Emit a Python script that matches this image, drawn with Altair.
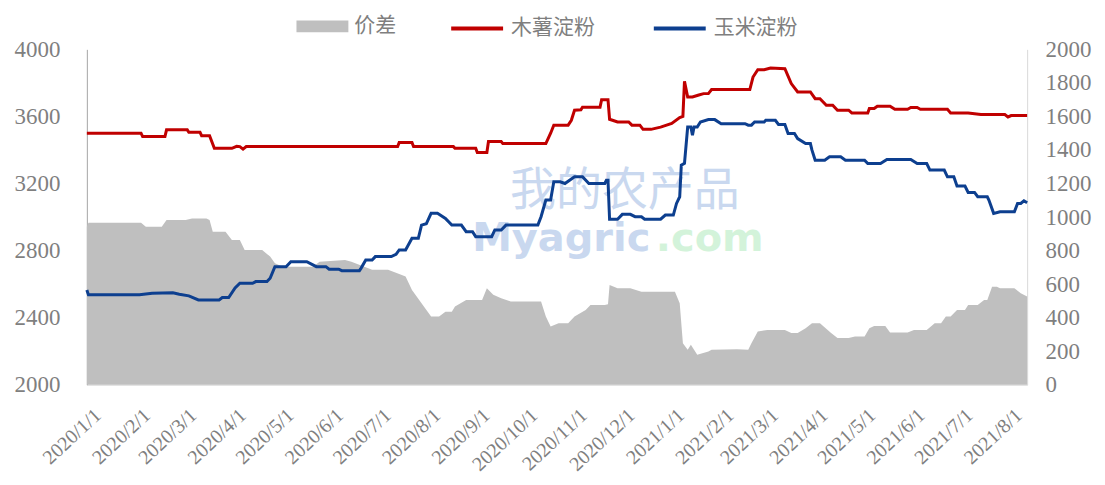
import altair as alt
import pandas as pd

# ---------------- data ----------------
cassava_dates = [
    "2020-01-01", "2020-02-04", "2020-02-05", "2020-02-19", "2020-02-20", "2020-03-04",
    "2020-03-05", "2020-03-12", "2020-03-13", "2020-03-18", "2020-03-21", "2020-04-01",
    "2020-04-04", "2020-04-06", "2020-04-08", "2020-04-10", "2020-07-14", "2020-07-15",
    "2020-07-23", "2020-07-24", "2020-08-18", "2020-08-19", "2020-09-01", "2020-09-02",
    "2020-09-08", "2020-09-09", "2020-09-17", "2020-09-18", "2020-10-15", "2020-10-18",
    "2020-10-20", "2020-10-29", "2020-10-31", "2020-11-02", "2020-11-06", "2020-11-07",
    "2020-11-18", "2020-11-19", "2020-11-23", "2020-11-24", "2020-11-29", "2020-12-06",
    "2020-12-08", "2020-12-13", "2020-12-15", "2020-12-20", "2020-12-26", "2021-01-02",
    "2021-01-07", "2021-01-09", "2021-01-10", "2021-01-12", "2021-01-15", "2021-01-19",
    "2021-01-22", "2021-01-25", "2021-01-27", "2021-02-20", "2021-02-22", "2021-02-25",
    "2021-03-01", "2021-03-05", "2021-03-14", "2021-03-18", "2021-03-22", "2021-03-30",
    "2021-04-02", "2021-04-05", "2021-04-09", "2021-04-13", "2021-04-16", "2021-04-23",
    "2021-04-25", "2021-05-05", "2021-05-06", "2021-05-09", "2021-05-11", "2021-05-19",
    "2021-05-22", "2021-05-30", "2021-06-01", "2021-06-05", "2021-06-07", "2021-06-24",
    "2021-06-26", "2021-07-07", "2021-07-15", "2021-07-30", "2021-08-01", "2021-08-03",
    "2021-08-13",
]
cassava_values = [
    3500, 3500, 3480, 3480, 3520, 3520,
    3505, 3505, 3485, 3485, 3410, 3410,
    3422, 3420, 3405, 3420, 3420, 3445,
    3445, 3420, 3420, 3410, 3410, 3385,
    3385, 3450, 3450, 3438, 3438, 3500,
    3548, 3548, 3577, 3637, 3640, 3655,
    3655, 3700, 3700, 3583, 3567, 3567,
    3548, 3548, 3523, 3523, 3536, 3558,
    3593, 3600, 3810, 3716, 3716, 3728,
    3736, 3736, 3760, 3760, 3835, 3879,
    3879, 3889, 3885, 3796, 3746, 3746,
    3706, 3706, 3667, 3667, 3637, 3637,
    3621, 3621, 3647, 3647, 3661, 3661,
    3643, 3643, 3653, 3653, 3643, 3643,
    3621, 3621, 3611, 3611, 3597, 3605,
    3605,
]

corn_dates = [
    "2020-01-01", "2020-01-02", "2020-02-03", "2020-02-11", "2020-02-24", "2020-02-28",
    "2020-03-05", "2020-03-11", "2020-03-24", "2020-03-26", "2020-03-30", "2020-04-03",
    "2020-04-06", "2020-04-14", "2020-04-16", "2020-04-23", "2020-04-25", "2020-04-28",
    "2020-05-05", "2020-05-08", "2020-05-18", "2020-05-24", "2020-05-30", "2020-06-01",
    "2020-06-07", "2020-06-09", "2020-06-20", "2020-06-21", "2020-06-24", "2020-06-28",
    "2020-06-30", "2020-07-10", "2020-07-13", "2020-07-15", "2020-07-19", "2020-07-23",
    "2020-07-27", "2020-07-29", "2020-08-01", "2020-08-04", "2020-08-08", "2020-08-13",
    "2020-08-17", "2020-08-23", "2020-08-26", "2020-08-30", "2020-09-01", "2020-09-11",
    "2020-09-13", "2020-09-17", "2020-09-20", "2020-10-10", "2020-10-12", "2020-10-15",
    "2020-10-18", "2020-10-20", "2020-10-24", "2020-10-27", "2020-11-02", "2020-11-07",
    "2020-11-11", "2020-11-21", "2020-11-22", "2020-11-23", "2020-11-24", "2020-11-29",
    "2020-12-02", "2020-12-07", "2020-12-10", "2020-12-14", "2020-12-16", "2020-12-26",
    "2020-12-29", "2021-01-03", "2021-01-05", "2021-01-07", "2021-01-08", "2021-01-10",
    "2021-01-12", "2021-01-14", "2021-01-15", "2021-01-16", "2021-01-18", "2021-01-20",
    "2021-01-25", "2021-01-29", "2021-02-02", "2021-02-17", "2021-02-19", "2021-02-21",
    "2021-02-23", "2021-03-01", "2021-03-02", "2021-03-08", "2021-03-10", "2021-03-14",
    "2021-03-16", "2021-03-20", "2021-03-22", "2021-03-27", "2021-03-30", "2021-03-31",
    "2021-04-02", "2021-04-08", "2021-04-11", "2021-04-18", "2021-04-21", "2021-05-03",
    "2021-05-05", "2021-05-13", "2021-05-17", "2021-06-01", "2021-06-05", "2021-06-11",
    "2021-06-13", "2021-06-22", "2021-06-24", "2021-06-28", "2021-06-30", "2021-07-05",
    "2021-07-07", "2021-07-11", "2021-07-13", "2021-07-19", "2021-07-20", "2021-07-23",
    "2021-07-27", "2021-08-05", "2021-08-07", "2021-08-09", "2021-08-11", "2021-08-13",
]
corn_values = [
    2565, 2536, 2536, 2546, 2548, 2540,
    2530, 2506, 2506, 2520, 2520, 2577,
    2605, 2605, 2615, 2615, 2635, 2704,
    2704, 2734, 2734, 2704, 2704, 2689,
    2689, 2680, 2680, 2694, 2744, 2744,
    2764, 2764, 2778, 2804, 2804, 2873,
    2873, 2952, 2960, 3022, 3022, 2992,
    2952, 2952, 2913, 2913, 2883, 2883,
    2923, 2923, 2952, 2952, 3002, 3101,
    3101, 3210, 3210, 3200, 3240, 3240,
    3200, 3200, 3220, 3220, 2987, 2987,
    3016, 3016, 3002, 3002, 2987, 2987,
    3012, 3012, 3081, 3121, 3310, 3320,
    3537, 3537, 3488, 3537, 3537, 3567,
    3581, 3581, 3557, 3557, 3548, 3548,
    3567, 3567, 3577, 3577, 3552, 3552,
    3498, 3498, 3468, 3438, 3438, 3399,
    3339, 3339, 3359, 3359, 3339, 3339,
    3319, 3319, 3343, 3343, 3319, 3319,
    3280, 3280, 3240, 3240, 3185, 3185,
    3147, 3147, 3121, 3121, 3101, 3022,
    3032, 3032, 3081, 3081, 3097, 3085,
]

spread_dates = [
    "2020-01-01", "2020-01-02", "2020-02-04", "2020-02-07", "2020-02-17", "2020-02-20",
    "2020-03-03", "2020-03-07", "2020-03-16", "2020-03-18", "2020-03-20", "2020-03-28",
    "2020-04-01", "2020-04-06", "2020-04-09", "2020-04-20", "2020-04-25", "2020-04-28",
    "2020-05-03", "2020-05-22", "2020-05-26", "2020-06-11", "2020-06-15", "2020-06-28",
    "2020-07-08", "2020-07-15", "2020-07-19", "2020-07-23", "2020-07-29", "2020-08-04",
    "2020-08-09", "2020-08-13", "2020-08-17", "2020-08-19", "2020-08-26", "2020-09-05",
    "2020-09-08", "2020-09-12", "2020-09-17", "2020-09-23", "2020-10-12", "2020-10-15",
    "2020-10-18", "2020-10-23", "2020-10-29", "2020-11-02", "2020-11-09", "2020-11-12",
    "2020-11-21", "2020-11-23", "2020-11-24", "2020-11-29", "2020-12-07", "2020-12-14",
    "2021-01-04", "2021-01-07", "2021-01-09", "2021-01-12", "2021-01-14", "2021-01-18",
    "2021-01-25", "2021-01-27", "2021-02-12", "2021-02-19", "2021-02-21", "2021-02-25",
    "2021-03-03", "2021-03-14", "2021-03-18", "2021-03-22", "2021-03-27", "2021-03-31",
    "2021-04-05", "2021-04-12", "2021-04-16", "2021-04-23", "2021-04-27", "2021-05-03",
    "2021-05-06", "2021-05-09", "2021-05-16", "2021-05-19", "2021-05-30", "2021-06-03",
    "2021-06-11", "2021-06-16", "2021-06-20", "2021-06-23", "2021-06-26", "2021-06-30",
    "2021-07-05", "2021-07-07", "2021-07-13", "2021-07-17", "2021-07-19", "2021-07-22",
    "2021-07-25", "2021-07-27", "2021-08-05", "2021-08-09", "2021-08-13",
]
spread_values = [
    942, 966, 966, 942, 942, 982,
    982, 992, 992, 982, 913, 913,
    863, 863, 804, 804, 764, 724,
    704, 704, 734, 744, 734, 685,
    685, 660, 645, 565, 486, 407,
    407, 436, 436, 466, 506, 506,
    575, 536, 516, 496, 496, 407,
    347, 367, 367, 407, 446, 476,
    476, 480, 595, 575, 575, 555,
    555, 486, 248, 208, 238, 179,
    198, 208, 212, 208, 248, 317,
    327, 327, 308, 308, 337, 367,
    367, 308, 278, 278, 288, 288,
    337, 351, 351, 311, 311, 327,
    327, 367, 367, 407, 407, 446,
    446, 476, 476, 506, 506, 585,
    585, 575, 575, 546, 526,
]

spread_name = "价差"
line_names = ["木薯淀粉", "玉米淀粉"]
spread_color = "#BFBFBF"
line_colors = ["#C00000", "#0D3F8F"]
x_tick_dates = [
    "2020-01-01", "2020-02-01", "2020-03-01", "2020-04-01", "2020-05-01", "2020-06-01",
    "2020-07-01", "2020-08-01", "2020-09-01", "2020-10-01", "2020-11-01", "2020-12-01",
    "2021-01-01", "2021-02-01", "2021-03-01", "2021-04-01", "2021-05-01", "2021-06-01",
    "2021-07-01", "2021-08-01",
]
x_domain = ["2020-01-01", "2021-08-13"]
left_ticks = [2000, 2400, 2800, 3200, 3600, 4000]
right_ticks = [0, 200, 400, 600, 800, 1000, 1200, 1400, 1600, 1800, 2000]
watermark_cn = "我的农产品"
watermark_en = "Myagric"
watermark_dom = ".com"

# ---------------- tables ----------------
def dt(s):
    y, m, d = (int(v) for v in s.split("-"))
    return alt.DateTime(year=y, month=m, date=d, utc=True)

lines_df = pd.concat([
    pd.DataFrame({"date": cassava_dates, "price": cassava_values, "series": line_names[0]}),
    pd.DataFrame({"date": corn_dates, "price": corn_values, "series": line_names[1]}),
])
spread_df = pd.DataFrame({"date": spread_dates, "spread": spread_values, "series": spread_name})

GRAY_TXT = "#7F7F7F"
SERIF = "Liberation Serif"
CJK = "Noto Sans CJK SC"

x_enc = alt.X(
    "date:T",
    title=None,
    scale=alt.Scale(type="utc", domain=[dt(v) for v in x_domain], nice=False),
    axis=alt.Axis(
        values=[dt(v) for v in x_tick_dates],
        format="%Y/%-m/%-d",
        labelAngle=-43,
        labelAlign="right",
        labelBaseline="top",
        labelOffset=4,
        labelPadding=20,
        labelFont=SERIF,
        labelFontSize=20,
        labelColor=GRAY_TXT,
        labelOverlap=False,
        labelFlush=False,
        ticks=False,
        tickSize=0,
        grid=False,
        domainColor="#D9D9D9",
        domainWidth=1,
    ),
)

box_path = "M-1,-0.23H1V0.23H-1Z"
line_path = "M-1,0H1"

area = alt.Chart(spread_df).mark_area(interpolate="linear", opacity=1).encode(
    x=x_enc,
    y=alt.Y(
        "spread:Q",
        title=None,
        scale=alt.Scale(domain=[0, 2000], nice=False, zero=True),
        axis=alt.Axis(
            orient="right",
            values=right_ticks,
            format="d",
            labelFont=SERIF,
            labelFontSize=23,
            labelColor=GRAY_TXT,
            labelPadding=18,
            ticks=False,
            tickSize=0,
            grid=False,
            domainColor="#D9D9D9",
        ),
    ),
    fill=alt.Fill(
        "series:N",
        scale=alt.Scale(domain=[spread_name], range=[spread_color]),
        legend=alt.Legend(
            orient="none", legendX=210, legendY=-49, direction="horizontal", title=None,
            labelFont=CJK, labelFontSize=21, labelColor=GRAY_TXT, labelOffset=6,
            symbolType=box_path, symbolSize=2704, symbolStrokeWidth=0, symbolOpacity=1,
        ),
    ),
)

wm_cn = alt.Chart(pd.DataFrame({"t": [watermark_cn]})).mark_text(
    font=CJK, fontSize=46, color="#C9D8EF", align="center", baseline="middle"
).encode(x=alt.value(539), y=alt.value(142), text="t:N")

wm_en = alt.Chart(pd.DataFrame({"t": [watermark_en]})).mark_text(
    font="DejaVu Sans", fontWeight="bold", fontSize=40, color="#C9D8EF", align="left", baseline="middle"
).encode(x=alt.value(386), y=alt.value(190), text="t:N")

wm_dom = alt.Chart(pd.DataFrame({"t": [watermark_dom]})).mark_text(
    font="DejaVu Sans", fontWeight="bold", fontSize=40, color="#D3F3DA", align="left", baseline="middle"
).encode(x=alt.value(570), y=alt.value(190), text="t:N")

lines = alt.Chart(lines_df).mark_line(strokeWidth=3, interpolate="linear").encode(
    x=x_enc,
    y=alt.Y(
        "price:Q",
        title=None,
        scale=alt.Scale(domain=[2000, 4000], nice=False, zero=False),
        axis=alt.Axis(
            orient="left",
            values=left_ticks,
            format="d",
            labelFont=SERIF,
            labelFontSize=23,
            labelColor=GRAY_TXT,
            labelPadding=27,
            ticks=False,
            tickSize=0,
            grid=False,
            domainColor="#A6A6A6",
        ),
    ),
    stroke=alt.Stroke(
        "series:N",
        scale=alt.Scale(domain=line_names, range=line_colors),
        legend=alt.Legend(
            orient="none", legendX=363, legendY=-49, direction="horizontal", title=None,
            labelFont=CJK, labelFontSize=21, labelColor=GRAY_TXT, labelOffset=6,
            columnPadding=51,
            symbolType=line_path, symbolSize=2704, symbolStrokeWidth=4, symbolOpacity=1,
        ),
    ),
)

chart = (
    alt.layer(area, wm_cn, wm_en, wm_dom, lines)
    .resolve_scale(y="independent")
    .properties(
        width=942,
        height=336,
        autosize=alt.AutoSizeParams(type="none"),
        padding={"left": 79, "top": 41, "right": 70, "bottom": 92},
        background="white",
    )
    .configure_view(stroke=None)
)

chart.save("out.html", embed_options={"renderer": "svg", "actions": False})
